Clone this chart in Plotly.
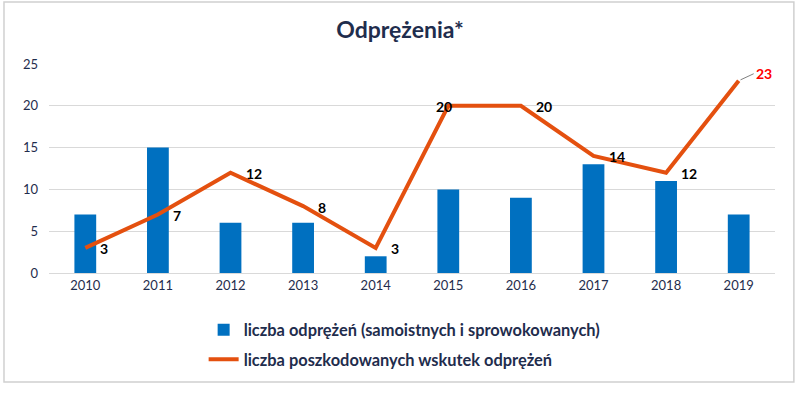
import plotly.graph_objects as go

years = ["2010", "2011", "2012", "2013", "2014", "2015", "2016", "2017", "2018", "2019"]
odprezenia = [7, 15, 6, 6, 2, 10, 9, 13, 11, 7]
poszkodowani = [3, 7, 12, 8, 3, 20, 20, 14, 12, 23]
y_ticks = [0, 5, 10, 15, 20, 25]

name_bar = "liczba odprężeń (samoistnych i sprowokowanych)"
name_line = "liczba poszkodowanych wskutek odprężeń"
title = "Odprężenia*"

FONT = "Lato"
NAVY = "#1F2D4D"
BLUE = "#0070C0"
ORANGE = "#E4500F"

fig = go.Figure()
fig.add_trace(go.Bar(x=years, y=odprezenia, name=f"<b>{name_bar}</b>",
                     marker=dict(color=BLUE, line=dict(width=0)),
                     width=0.3, legendgroup="a"))
fig.add_trace(go.Scatter(x=years, y=poszkodowani, name=f"<b>{name_line}</b>", mode="lines",
                         line=dict(color=ORANGE, width=4), legendgroup="b"))

annotations = []
for i, (yr, v) in enumerate(zip(years, poszkodowani)):
    last = i == len(years) - 1
    centered = yr == "2015"
    a = dict(x=i, y=v, text=f"<b>{v}</b>", showarrow=False,
             font=dict(family=FONT, size=14, color="#FF0000" if last else "#000000"),
             xanchor="center" if centered else "left", yanchor="middle",
             xshift=-4 if centered else 13, yshift=-1)
    if last:
        a.update(showarrow=True, ax=15, ay=-7, arrowhead=0, arrowwidth=1,
                 arrowcolor="#808080", xshift=0, yshift=0, standoff=2)
    annotations.append(a)

fig.update_layout(
    width=800, height=393,
    margin=dict(l=49, r=25, t=64, b=120),
    paper_bgcolor="white", plot_bgcolor="white",
    title=dict(text=f"<b>{title}</b>", x=0.5, xanchor="center", y=0.925, yanchor="middle",
               font=dict(family=FONT, size=23, color=NAVY)),
    font=dict(family=FONT, color=NAVY),
    showlegend=True,
    legend=dict(orientation="v", x=0.213, xanchor="left", y=-0.19, yanchor="top",
                font=dict(family=FONT, size=16.4, color=NAVY), traceorder="grouped",
                tracegroupgap=5, bgcolor="rgba(0,0,0,0)"),
    annotations=annotations,
    bargap=0.7,
)
fig.update_xaxes(type="category", range=[-0.5, len(years) - 0.5], showgrid=False, showline=True,
                 linecolor="#D9D9D9", linewidth=1,
                 tickfont=dict(family=FONT, size=13, color=NAVY), ticks="")
fig.update_yaxes(range=[0, 25], tickvals=y_ticks, showgrid=True, gridcolor="#D9D9D9", gridwidth=1,
                 zeroline=False, showline=False, ticks="", ticklabelstandoff=10,
                 tickfont=dict(family=FONT, size=13, color=NAVY))

fig.add_shape(type="rect", xref="paper", yref="paper", x0=-0.062, x1=1.026, y0=-0.522, y1=1.297,
              line=dict(color="#D0D0D0", width=1.5), fillcolor="rgba(0,0,0,0)", layer="below")

fig.write_html("out.html", config={"displayModeBar": False},
               post_script="document.body.style.margin='0';")
